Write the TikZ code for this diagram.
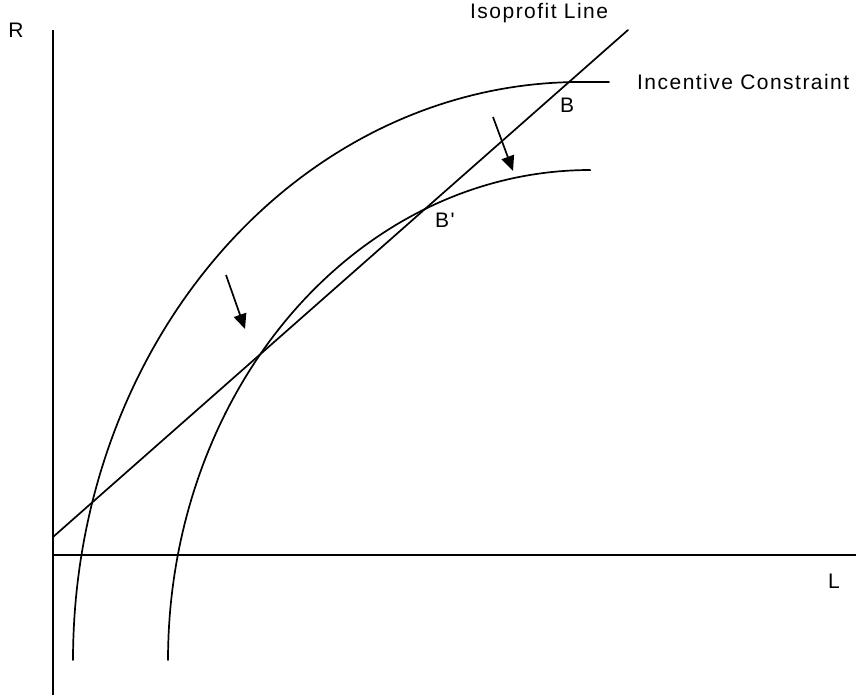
\documentclass[tikz,border=0pt]{standalone}
\usepackage{fontspec}
\setmainfont{Liberation Sans}[LetterSpace=7, Ligatures=TeXOff]
\usetikzlibrary{arrows.meta}
\tikzset{
  curve/.style={line width=1.7pt, line cap=round},
  axis/.style={line width=1.7pt},
  lbl/.style={inner sep=0pt, font=\fontsize{21}{25}\selectfont},
  shift arrow/.style={line width=1.7pt, -{Triangle[length=15pt,width=13pt]}}
}
\begin{document}
\begin{tikzpicture}[x=1pt,y=-1pt]
\useasboundingbox (0,0) rectangle (856,698);
% axes
\coordinate (ytop) at (53,30);
\coordinate (ybot) at (53,695);
\coordinate (xl) at (53,555);
\coordinate (xr) at (856,555);
\draw[axis] (ybot) -- (ytop);
\draw[axis] (xl) -- (xr);
% isoprofit line
\coordinate (iso0) at (53,537);
\coordinate (iso1) at (628,30);
\draw[curve] (iso0) -- (iso1);
% incentive constraint (outer)
\coordinate (icend) at (609,82);
\draw[curve] plot[domain=0:90, samples=90] ({580-507*cos(\x)},{660-578*sin(\x)}) -- (icend);
% shifted constraint (inner)
\coordinate (icend2) at (590,170);
\draw[curve] plot[domain=0:90, samples=90] ({590-422*cos(\x)},{660-490*sin(\x)}) -- (icend2);
% arrows
\coordinate (a1s) at (226,275);
\coordinate (a1e) at (245,329);
\draw[shift arrow] (a1s) -- (a1e);
\coordinate (a2s) at (493,117);
\coordinate (a2e) at (513,171);
\draw[shift arrow] (a2s) -- (a2e);
% labels
\node[lbl] (R) at (16,30) {R};
\node[lbl] (Lx) at (834,581) {L};
\node[lbl, anchor=west] (isol) at (470,13) {Isoprofit Line};
\node[lbl, anchor=west] (icl) at (637,82) {Incentive Constraint};
\node[lbl] (B) at (567,105) {B};
\node[lbl, anchor=west] (Bp) at (435,220) {B'};
\end{tikzpicture}
\end{document}
